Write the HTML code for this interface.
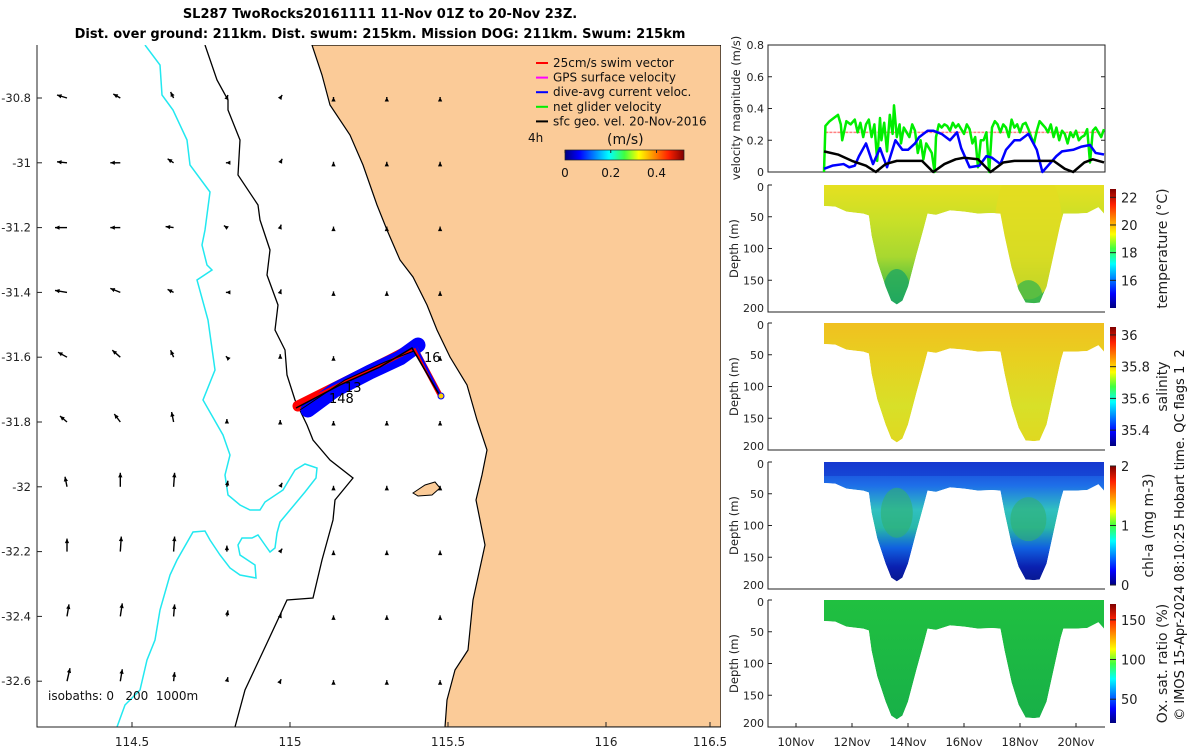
<!DOCTYPE html>
<html><head><meta charset="utf-8"><style>
html,body{margin:0;padding:0;background:#fff}
svg{display:block;font-family:"DejaVu Sans","Liberation Sans",sans-serif}
text{white-space:pre}
</style></head><body>
<svg id="s" width="1200" height="750" viewBox="0 0 1200 750" xmlns="http://www.w3.org/2000/svg">
<defs id="defs">
<linearGradient id="jet" x1="0" x2="1" y1="0" y2="0"><stop offset="0" stop-color="#00007f"/><stop offset="0.12" stop-color="#0000ff"/><stop offset="0.37" stop-color="#00ffff"/><stop offset="0.5" stop-color="#40ff40"/><stop offset="0.62" stop-color="#ffff00"/><stop offset="0.87" stop-color="#ff2000"/><stop offset="1" stop-color="#800000"/></linearGradient>
<linearGradient id="jetv" x1="0" x2="0" y1="1" y2="0"><stop offset="0" stop-color="#00007f"/><stop offset="0.12" stop-color="#0000ff"/><stop offset="0.37" stop-color="#00ffff"/><stop offset="0.5" stop-color="#40ff40"/><stop offset="0.62" stop-color="#ffff00"/><stop offset="0.87" stop-color="#ff2000"/><stop offset="1" stop-color="#800000"/></linearGradient>
<linearGradient id="gT" x1="0" x2="0" y1="0" y2="1"><stop offset="0" stop-color="#e6e020"/><stop offset="0.3" stop-color="#c8e028"/><stop offset="0.6" stop-color="#a8d830"/><stop offset="0.85" stop-color="#50c040"/><stop offset="1" stop-color="#20a860"/></linearGradient>
<linearGradient id="gS" x1="0" x2="0" y1="0" y2="1"><stop offset="0" stop-color="#f0c020"/><stop offset="0.3" stop-color="#e8d020"/><stop offset="0.7" stop-color="#d8e028"/><stop offset="1" stop-color="#e0d820"/></linearGradient>
<linearGradient id="gC" x1="0" x2="0" y1="0" y2="1"><stop offset="0" stop-color="#1a40d8"/><stop offset="0.2" stop-color="#1e70e8"/><stop offset="0.4" stop-color="#30c0c0"/><stop offset="0.55" stop-color="#28b8a8"/><stop offset="0.72" stop-color="#1060e0"/><stop offset="0.88" stop-color="#0a20b0"/><stop offset="1" stop-color="#081890"/></linearGradient>
<linearGradient id="gO" x1="0" x2="0" y1="0" y2="1"><stop offset="0" stop-color="#20c040"/><stop offset="1" stop-color="#18b048"/></linearGradient>
<clipPath id="mapclip"><rect x="37" y="45" width="684" height="682"/></clipPath>
</defs>
<g id="map"></g>
<g id="right"></g>
</svg>
<script>
// ---------- data ----------
const latTicks=[-30.8,-31,-31.2,-31.4,-31.6,-31.8,-32,-32.2,-32.4,-32.6];
const lonTicks=[114.5,115,115.5,116,116.5];
const arrU=[[-0.1,-0.07,-0.03,0.01,0.02],[-0.1,-0.1,-0.06,-0.01,0.02],[-0.12,-0.1,-0.08,-0.03,0.01],[-0.12,-0.1,-0.06,-0.01,0.01],[-0.09,-0.08,-0.03,-0.01,0.0],[-0.07,-0.06,-0.02,0.0,0.0],[-0.02,0.0,0.01,0.01,0.02],[0.0,0.01,0.01,0.0,0.02],[0.02,0.02,0.01,0.01,0.01],[0.03,0.02,0.01,0.01,0.01]];
const arrV=[[0.03,0.04,0.06,0.03,0.03],[0.01,0.0,0.04,0.0,0.04],[0.0,0.0,0.01,0.02,0.03],[0.02,0.04,0.03,0.0,0.03],[0.05,0.07,0.07,0.01,0.03],[0.06,0.08,0.1,0.03,0.02],[0.1,0.14,0.14,0.06,0.04],[0.13,0.15,0.15,0.06,0.03],[0.12,0.13,0.12,0.06,0.03],[0.13,0.12,0.09,0.04,0.02]];
const legendItems=["25cm/s swim vector","GPS surface velocity","dive-avg current veloc.","net glider velocity","sfc geo. vel. 20-Nov-2016"];
const legendColors=["#ff0000","#ff00ff","#0000ff","#00ee00","#000000"];
const speedTicks=[0,0.2,0.4];
const dayTicks=[10,12,14,16,18,20];
const velTicks=[0,0.2,0.4,0.6,0.8];
const depthTicks=[0,50,100,150,200];
const greenT=[11.0,11.05,11.2,11.35,11.5,11.6,11.65,11.8,11.95,12.1,12.2,12.3,12.4,12.5,12.6,12.7,12.8,12.9,13.0,13.05,13.15,13.25,13.35,13.45,13.5,13.6,13.7,13.75,13.85,13.95,14.05,14.15,14.25,14.35,14.45,14.55,14.65,14.75,14.85,14.95,15.0,15.1,15.2,15.3,15.4,15.5,15.6,15.7,15.8,15.9,16.0,16.1,16.2,16.3,16.4,16.5,16.6,16.7,16.8,16.9,17.0,17.1,17.2,17.3,17.4,17.5,17.6,17.7,17.8,17.9,18.0,18.1,18.2,18.3,18.4,18.5,18.6,18.7,18.8,18.9,19.0,19.1,19.2,19.3,19.4,19.5,19.6,19.7,19.8,19.9,20.0,20.1,20.2,20.3,20.4,20.5,20.6,20.7,20.8,20.9,21.0];
const greenV=[0.0,0.29,0.32,0.34,0.36,0.3,0.2,0.32,0.3,0.33,0.25,0.31,0.22,0.3,0.33,0.22,0.3,0.07,0.34,0.2,0.31,0.13,0.36,0.24,0.42,0.22,0.3,0.18,0.28,0.25,0.22,0.3,0.26,0.12,0.2,0.08,0.18,0.15,0.12,0.0,0.22,0.3,0.28,0.3,0.29,0.26,0.31,0.28,0.3,0.27,0.24,0.3,0.27,0.18,0.22,0.03,0.2,0.2,0.25,0.0,0.28,0.32,0.3,0.25,0.3,0.28,0.22,0.33,0.28,0.3,0.25,0.3,0.31,0.27,0.22,0.18,0.26,0.32,0.3,0.28,0.25,0.3,0.22,0.28,0.2,0.26,0.24,0.18,0.25,0.22,0.26,0.2,0.22,0.23,0.27,0.06,0.26,0.28,0.25,0.22,0.27];
const blueT=[11.0,11.3,11.7,11.9,12.1,12.25,12.5,12.75,13.0,13.25,13.55,13.8,14.0,14.25,14.4,14.7,14.9,15.2,15.5,15.75,15.9,16.2,16.55,16.8,17.0,17.3,17.5,17.8,18.0,18.3,18.6,18.8,19.0,19.3,19.5,19.9,20.2,20.5,20.7,21.0];
const blueV=[0.02,0.04,0.05,0.03,0.04,0.1,0.18,0.05,0.15,0.03,0.2,0.14,0.14,0.18,0.22,0.26,0.26,0.24,0.2,0.25,0.15,0.03,0.04,0.1,0.09,0.05,0.14,0.2,0.2,0.24,0.14,0.0,0.04,0.1,0.13,0.14,0.16,0.17,0.12,0.11];
const blackT=[11.0,11.5,12.0,12.5,12.85,13.2,13.6,14.0,14.5,14.9,15.3,15.7,16.0,16.5,16.95,17.4,17.8,18.3,18.8,19.2,19.6,19.9,20.3,20.6,21.0];
const blackV=[0.13,0.11,0.07,0.04,0.0,0.05,0.07,0.07,0.07,0.0,0.05,0.08,0.09,0.08,0.0,0.06,0.07,0.07,0.07,0.07,0.02,0.0,0.06,0.08,0.06];
const envT=[11.0,11.4,11.8,12.2,12.4,12.6,12.7,12.9,13.2,13.4,13.6,13.8,14.0,14.3,14.55,14.7,15.0,15.5,16.0,16.5,17.0,17.3,17.45,17.7,17.95,18.2,18.5,18.7,18.95,19.2,19.45,19.55,20.0,20.4,20.8,21.0];
const envD=[33,34,42,44,45,48,80,120,160,182,188,182,160,110,70,45,47,40,42,45,44,45,80,130,165,185,186,185,160,110,60,45,45,44,35,45];
const tempTicks=[16,18,20,22], salTicks=[35.4,35.6,35.8,36], chlTicks=[0,1,2], oxTicks=[50,100,150];

// ---------- helpers ----------
const NS="http://www.w3.org/2000/svg";
function mk(tag,attrs,parent){const e=document.createElementNS(NS,tag);for(const k in attrs)e.setAttribute(k,attrs[k]);parent.appendChild(e);return e;}
function txt(s,x,y,size,parent,anchor,extra){const e=mk('text',Object.assign({x:x,y:y,'font-size':size,'text-anchor':anchor||'start',fill:'#222'},extra||{}),parent);e.textContent=s;return e;}
const defs=document.getElementById('defs');

// ---------- map ----------
const map=document.getElementById('map');
const lonX=lon=>132+(lon-114.5)*316;
const latY=lat=>98+(-30.8-lat)/0.2*64.8;
const inner=mk('g',{'clip-path':'url(#mapclip)'},map);
const land=mk('path',{d:"M312,45 L322,75 L330,105 L350,135 L363,165 L377,205 L387,230 L400,260 L413,277 L427,305 L437,330 L450,357 L467,385 L477,420 L487,450 L482,475 L476,500 L485,545 L473,600 L468,650 L455,670 L447,700 L445,727 L721,727 L721,45 Z",fill:'#fbcb98',stroke:'#000','stroke-width':1.2},inner);


const isl=mk('path',{d:"M413,493 L425,485 L435,482 L440,488 L432,495 L418,496 Z",fill:'#fbcb98',stroke:'#000','stroke-width':1},inner);


const iso200=mk('path',{d:"M205,45 L217,80 L228,100 L228,110 L240,140 L238,175 L258,205 L260,220 L270,250 L267,275 L278,305 L275,330 L285,350 L287,375 L295,400 L307,425 L313,440 L330,460 L353,478 L335,500 L333,520 L322,560 L313,598 L287,600 L267,643 L245,690 L235,727",fill:'none',stroke:'#000','stroke-width':1.3},inner);


const iso1000=mk('path',{d:"M145,45 L160,65 L162,95 L173,110 L187,140 L190,165 L210,192 L205,230 L202,245 L207,265 L212,270 L197,280 L208,320 L215,370 L203,400 L223,435 L230,455 L225,475 L228,495 L240,505 L250,510 L260,510 L265,502 L283,490 L295,470 L305,464 L317,468 L316,478 L305,492 L290,510 L280,522 L277,533 L275,548 L270,552 L265,545 L258,535 L252,538 L242,538 L238,545 L240,555 L255,565 L256,578 L240,575 L230,568 L220,555 L210,540 L205,531 L193,532 L177,560 L170,575 L160,610 L155,640 L147,660 L140,690 L125,705 L117,727",fill:'none',stroke:'#22e8f0','stroke-width':1.5},inner);


for(let r=0;r<latTicks.length;r++){for(let c=0;c<8;c++){
  const x0=67+c*53.3, y0=latY(latTicks[r]);
  let u=0,v=0.01; if(c<5){u=arrU[r][c];v=arrV[r][c];}
  const x1=x0+u*100, y1=y0-v*100;
  const g=mk('g',{},inner);
  
  
  mk('line',{x1:x0,y1:y0,x2:x1,y2:y1,stroke:'#000','stroke-width':1.4},g);
  const ang=Math.atan2(y1-y0,x1-x0);
  const hx=x1,hy=y1,a1=ang+2.7,a2=ang-2.7;
  mk('polygon',{points:`${hx},${hy} ${hx+5*Math.cos(a1)},${hy+5*Math.sin(a1)} ${hx+5*Math.cos(a2)},${hy+5*Math.sin(a2)}`,fill:'#000'},g);
}}
const trk=mk('g',{},inner);


mk('polyline',{points:"298,406 330,390 360,375 390,360 415,347",fill:'none',stroke:'#ff0000','stroke-width':11,'stroke-linejoin':'round','stroke-linecap':'round'},trk);
mk('polyline',{points:"308,410 335,390 370,372 400,358 418,345",fill:'none',stroke:'#0000ff','stroke-width':15,'stroke-linejoin':'round','stroke-linecap':'round'},trk);
mk('polyline',{points:"300,404 340,384 380,366 412,350",fill:'none',stroke:'#ff0000','stroke-width':3},trk);
mk('polyline',{points:"415,348 440,395",fill:'none',stroke:'#ff0000','stroke-width':5},trk);
mk('polyline',{points:"416,347 441,396",fill:'none',stroke:'#0000ff','stroke-width':2},trk);
mk('polyline',{points:"296,408 340,385 380,367 412,348 440,396",fill:'none',stroke:'#000','stroke-width':1.5},trk);
mk('polyline',{points:"300,410 345,380 385,362 414,351",fill:'none',stroke:'#000','stroke-width':1},trk);
mk('circle',{cx:441,cy:396,r:3,fill:'#ffd000',stroke:'#0000ff'},trk);
txt('16',424,362,13,inner,'start',{fill:'#000'});
txt('13',345,392,13,inner,'start',{fill:'#000'});
txt('148',329,403,13,inner,'start',{fill:'#000'});
legendItems.forEach((s,i)=>{const y=67+i*14.6;
  const g=mk('g',{},map);
  
  
  mk('line',{x1:536,y1:y-4,x2:548,y2:y-4,stroke:legendColors[i],'stroke-width':2},g);
  txt(s,553,y,12,g,'start',{fill:'#111'});});
txt('4h',528,142,12,map,'start',{fill:'#111'});
txt('(m/s)',607,144,14,map,'start',{fill:'#111'});
const cb=mk('rect',{x:565,y:150,width:119,height:10,fill:'url(#jet)',stroke:'#222','stroke-width':0.7},map);


speedTicks.forEach(v=>{const x=565+v/0.52*119;txt(String(v),x,177,12,map,'middle',{fill:'#111'});mk('line',{x1:x,y1:150,x2:x,y2:153,stroke:'#222'},map);});
txt('isobaths: 0   200  1000m',48,700,12,map,'start',{fill:'#111'});
mk('path',{d:"M37,45 L37,727 L721,727",fill:'none',stroke:'#222','stroke-width':1},map);
latTicks.forEach(l=>{const y=latY(l);mk('line',{x1:37,y1:y,x2:42,y2:y,stroke:'#222'},map);txt(String(l),31,y+4,11.5,map,'end');});
lonTicks.forEach(l=>{let x=lonX(l);if(l===116.5)x=710;mk('line',{x1:x,y1:727,x2:x,y2:722,stroke:'#222'},map);txt(String(l),x,746,12,map,'middle');});
txt('SL287 TwoRocks20161111 11-Nov 01Z to 20-Nov 23Z.',380,18,13,map,'middle',{'font-weight':'bold',fill:'#000'});
txt('Dist. over ground: 211km. Dist. swum: 215km. Mission DOG: 211km. Swum: 215km',380,38,13,map,'middle',{'font-weight':'bold',fill:'#000'});

// ---------- right panels ----------
const R=document.getElementById('right');
const tx=d=>796+(d-10)*28;
const PX0=768,PX1=1105;
const vY=v=>172-v*158.75;
mk('rect',{x:PX0,y:45,width:PX1-PX0,height:127,fill:'none',stroke:'#222'},R);
velTicks.forEach(v=>{const y=vY(v);mk('line',{x1:PX0,y1:y,x2:PX0+4,y2:y,stroke:'#222'},R);mk('line',{x1:PX1,y1:y,x2:PX1-4,y2:y,stroke:'#222'},R);txt(String(v),764,y+4,11,R,'end');});
txt('velocity magnitude (m/s)',740,108,11.5,R,'middle',{transform:'rotate(-90 740 108)'});
mk('line',{x1:tx(11.05),y1:vY(0.25),x2:tx(21),y2:vY(0.25),stroke:'#ff8080','stroke-width':1.5,'stroke-dasharray':'3,1'},R);
function series(T,V,col,w,name){const p=mk('polyline',{points:T.map((t,i)=>tx(t)+','+vY(V[i])).join(' '),fill:'none',stroke:col,'stroke-width':w,'stroke-linejoin':'round'},R);
  
  }
series(greenT,greenV,'#00ee00',2.5,'net-glider-velocity-line');
series(blueT,blueV,'#0000ff',2.5,'dive-avg-current-line');
series(blackT,blackV,'#000',2.5,'sfc-geo-velocity-line');

const panels=[{y0:185,grad:'gT',ticks:tempTicks,min:14,max:22.6,label:'temperature (°C)',name:'temperature-section'},
 {y0:323,grad:'gS',ticks:salTicks,min:35.3,max:36.05,label:'salinity',name:'salinity-section'},
 {y0:462,grad:'gC',ticks:chlTicks,min:0,max:2,label:'chl-a (mg m-3)',name:'chl-a-section'},
 {y0:600,grad:'gO',ticks:oxTicks,min:20,max:170,label:'Ox. sat. ratio (%)',name:'oxygen-section'}];
panels.forEach((P,pi)=>{
  const dY=d=>P.y0+d*0.635;
  const pts=tx(envT[0])+','+P.y0+' '+tx(envT[envT.length-1])+','+P.y0+' '+envT.slice().reverse().map((t,i)=>tx(t)+','+dY(envD[envD.length-1-i])).join(' ');
  const cp=mk('clipPath',{id:'cp'+pi},defs);
  mk('polygon',{points:pts},cp);
  const g=mk('g',{'clip-path':'url(#cp'+pi+')'},R);
  
  
  mk('polygon',{points:pts,fill:'url(#'+P.grad+')'},g);
  if(pi===2){
    mk('ellipse',{cx:tx(13.6),cy:dY(80),rx:16,ry:25,fill:'#30b070',opacity:0.6},g);
    mk('ellipse',{cx:tx(18.3),cy:dY(90),rx:18,ry:22,fill:'#30b070',opacity:0.6},g);
    mk('rect',{x:tx(11),y:P.y0,width:tx(21)-tx(11),height:14,fill:'#1030c8',opacity:0.5},g);
  }
  if(pi===0){
    mk('ellipse',{cx:tx(18.3),cy:dY(70),rx:34,ry:70,fill:'#e4dc20',opacity:0.8},g);
    mk('ellipse',{cx:tx(13.6),cy:dY(170),rx:14,ry:24,fill:'#20a860',opacity:0.8},g);
    mk('ellipse',{cx:tx(18.3),cy:dY(175),rx:14,ry:16,fill:'#40b848',opacity:0.8},g);
  }
  mk('path',{d:`M${PX0},${P.y0} L${PX0},${dY(200)} L${PX1},${dY(200)}`,fill:'none',stroke:'#222'},R);
  depthTicks.forEach(d=>{const y=dY(d);mk('line',{x1:PX0,y1:y,x2:PX0+4,y2:y,stroke:'#222'},R);txt(String(d),764,y+(d===0?6:d===200?0:4),11,R,'end');});
  txt('Depth (m)',738,dY(100),11.5,R,'middle',{transform:`rotate(-90 738 ${dY(100)})`});
  const cy0=P.y0+4, cy1=dY(200)-4;
  const c=mk('rect',{x:1110,y:cy0,width:6,height:cy1-cy0,fill:'url(#jetv)'},R);
  
  
  P.ticks.forEach(v=>{const y=cy1-(v-P.min)/(P.max-P.min)*(cy1-cy0);mk('line',{x1:1110,y1:y,x2:1116,y2:y,stroke:'#222'},R);txt(String(v),1121,y+5,13,R,'start');});
  const lx=pi===2?1153:1167, lyc=(cy0+cy1)/2;
  txt(P.label,lx,lyc,14,R,'middle',{transform:`rotate(-90 ${lx} ${lyc})`});
});
dayTicks.forEach(d=>{const x=tx(d);mk('line',{x1:x,y1:727,x2:x,y2:723,stroke:'#222'},R);txt(d+'Nov',x,746,11.5,R,'middle');});
txt('© IMOS 15-Apr-2024 08:10:25 Hobart time. QC flags 1  2',1184,535,13,R,'middle',{transform:'rotate(-90 1184 535)',fill:'#111'});
</script>
</body></html>
